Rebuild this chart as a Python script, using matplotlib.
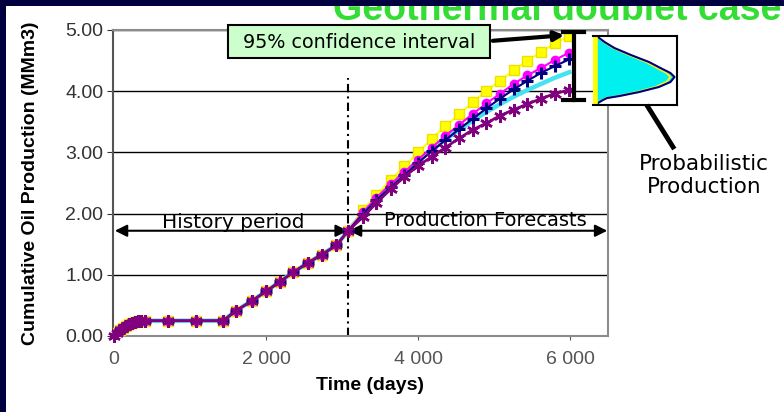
import matplotlib
matplotlib.use('Agg')
import matplotlib.pyplot as plt
from matplotlib.patches import Rectangle, FancyArrowPatch
from matplotlib.lines import Line2D

# ---------- Data ----------
hist_days = [0, 40, 80, 120, 160, 200, 240, 280, 320, 360, 400,
             710, 1080, 1435, 1600, 1820, 2000, 2185, 2355, 2545, 2730, 2925]
hist_prod = [0.0, 0.05, 0.09, 0.13, 0.16, 0.19, 0.21, 0.23, 0.24, 0.25, 0.25,
             0.25, 0.25, 0.25, 0.41, 0.58, 0.73, 0.89, 1.04, 1.19, 1.33, 1.48]

split_day = 3080
split_prod = 1.72

fc_days = [3280, 3450, 3640, 3820, 4000, 4180, 4360, 4540, 4720,
           4900, 5080, 5260, 5440, 5620, 5800, 5990]
fc_yellow = [2.06, 2.30, 2.55, 2.77, 3.00, 3.22, 3.43, 3.62, 3.82,
             4.01, 4.17, 4.34, 4.50, 4.64, 4.78, 4.90]
fc_magenta = [2.03, 2.26, 2.48, 2.68, 2.88, 3.08, 3.27, 3.45, 3.63,
              3.80, 3.96, 4.12, 4.26, 4.38, 4.51, 4.63]
fc_navy = [2.00, 2.22, 2.43, 2.63, 2.83, 3.02, 3.20, 3.38, 3.55,
           3.72, 3.88, 4.03, 4.17, 4.30, 4.41, 4.52]
fc_cyan = [2.02, 2.25, 2.47, 2.67, 2.86, 3.04, 3.21, 3.37, 3.52,
           3.66, 3.79, 3.91, 4.02, 4.12, 4.22, 4.31]
fc_purple = [1.95, 2.17, 2.40, 2.60, 2.78, 2.93, 3.08, 3.23, 3.37,
             3.48, 3.60, 3.70, 3.79, 3.88, 3.96, 4.02]

ci_day = 6050
ci_low, ci_high = 3.86, 4.97

# inset distribution outline (fraction of inset box)
dens_y = [0.985, 0.913, 0.826, 0.725, 0.623, 0.536, 0.464, 0.406,
          0.333, 0.261, 0.188, 0.130, 0.101, 0.072, 0.029]
dens_x = [0.06, 0.14, 0.26, 0.46, 0.68, 0.82, 0.94, 0.99,
          0.94, 0.80, 0.56, 0.32, 0.17, 0.12, 0.06]

x_ticks = [0, 2000, 4000, 6000]
x_labels = ['0', '2 000', '4 000', '6 000']
y_ticks = [0, 1, 2, 3, 4, 5]
y_labels = ['0.00', '1.00', '2.00', '3.00', '4.00', '5.00']

W, H = 784, 412


def fx(x):
    return x / W


def fy(y):
    return 1 - y / H


plt.rcParams['font.family'] = ['Liberation Sans', 'DejaVu Sans']

fig = plt.figure(figsize=(W / 100, H / 100), dpi=100)
ax = fig.add_axes([fx(113), fy(336), (608 - 113) / W, (336 - 30) / H])
ax.set_xlim(-15, 6500)
ax.set_ylim(0, 5)

days = hist_days + [split_day] + fc_days


def full(fc):
    return hist_prod + [split_prod] + fc


# ---------- Series ----------
ax.plot(days, full(fc_cyan), color='#45e3f0', lw=3.2, zorder=3)
ax.plot(days, full(fc_yellow), color='#ffff00', lw=1.5, marker='s', ms=6.5,
        mec='#f0e000', zorder=4)
ax.plot(days, full(fc_magenta), color='#ff00ff', lw=1.5, marker='o', ms=6,
        zorder=4)
ax.plot(days, full(fc_navy), color='#000080', lw=1.5, marker='+', ms=8,
        mew=2.2, zorder=5)
ax.plot(days, full(fc_purple), color='#800080', lw=2, marker=(6, 2, 0), ms=9,
        mew=1.8, zorder=6, clip_on=False)

# ---------- Split line and period arrows ----------
ax.plot([split_day, split_day], [0, 4.22], color='black', lw=1.5,
        ls=(0, (4, 2, 1, 2)), zorder=2)
ax.annotate('', xy=(10, 1.72), xytext=(split_day - 5, 1.72),
            arrowprops=dict(arrowstyle='<|-|>', color='black', lw=1.5,
                            mutation_scale=18, shrinkA=0, shrinkB=0))
ax.annotate('', xy=(split_day + 10, 1.72), xytext=(6490, 1.72),
            arrowprops=dict(arrowstyle='<|-|>', color='black', lw=1.5,
                            mutation_scale=18, shrinkA=0, shrinkB=0),
            annotation_clip=False)
ax.text(1565, 1.86, 'History period', ha='center', va='center',
        fontsize=14.5, family='DejaVu Sans', zorder=7)
ax.text(4890, 1.88, 'Production Forecasts', ha='center', va='center',
        fontsize=14, family='DejaVu Sans', zorder=7)

# ---------- Confidence interval bar ----------
ax.plot([ci_day, ci_day], [ci_low, ci_high], color='black', lw=3, zorder=8)
ax.plot([5910, 6180], [ci_high, ci_high], color='black', lw=3, zorder=8)
ax.plot([5910, 6180], [ci_low, ci_low], color='black', lw=3, zorder=8)

# ---------- Axes styling ----------
ax.set_xticks(x_ticks)
ax.set_xticklabels(x_labels)
ax.set_yticks(y_ticks)
ax.set_yticklabels(y_labels)
ax.tick_params(axis='x', length=3, pad=8, labelsize=14, colors='#555555')
ax.tick_params(axis='y', length=4, pad=3, labelsize=14, colors='#333333')
ax.yaxis.grid(True, color='black', lw=1)
ax.set_axisbelow(True)
for side in ['top', 'right', 'bottom']:
    ax.spines[side].set_color('#8c8c8c')
    ax.spines[side].set_linewidth(1.5)
ax.spines['left'].set_color('#555555')
ax.spines['left'].set_linewidth(1.5)

fig.text(fx(370), fy(386), 'Time (days)', ha='center', va='center',
         fontsize=14, fontweight='bold')
fig.text(fx(31), fy(183), 'Cumulative Oil Production (MMm3)', ha='center',
         va='center', rotation=90, fontsize=14, fontweight='bold')

# ---------- Confidence interval label ----------
fig.add_artist(Rectangle((fx(228), fy(58)), (490 - 228) / W, (58 - 25) / H,
                         transform=fig.transFigure, facecolor='#ccffcc',
                         edgecolor='black', lw=1.5, zorder=9))
fig.text(fx(359), fy(42), '95% confidence interval', ha='center',
         va='center', fontsize=13.8, family='DejaVu Sans', zorder=10)
fig.add_artist(FancyArrowPatch((fx(490), fy(41)), (fx(567), fy(35)),
                               transform=fig.transFigure, arrowstyle='-|>',
                               mutation_scale=14, lw=3, color='black',
                               zorder=10))

# ---------- Inset distribution ----------
iax = fig.add_axes([fx(593), fy(105), 84 / W, 69 / H])
iax.set_xlim(0, 1.02)
iax.set_ylim(0, 1)
iax.fill_betweenx(dens_y, 0, dens_x, color='#00f0f0', lw=0)
iax.plot([v * 0.95 for v in dens_x], dens_y, color='#f0f020', lw=1.5)
iax.plot(dens_x, dens_y, color='#000080', lw=1.5)
iax.plot([0.03, 0.03], [0, 1], color='#ffff00', lw=4)
iax.set_xticks([])
iax.set_yticks([])
for side in ['top', 'right', 'bottom']:
    iax.spines[side].set_linewidth(1.5)
iax.spines['left'].set_visible(False)

fig.add_artist(Line2D([fx(648), fx(673)], [fy(107), fy(147)],
                      transform=fig.transFigure, color='black', lw=3.5))
fig.text(fx(704), fy(164), 'Probabilistic', ha='center', va='center',
         fontsize=15.5, family='DejaVu Sans')
fig.text(fx(704), fy(187), 'Production', ha='center', va='center',
         fontsize=15.5, family='DejaVu Sans')

# ---------- Slide frame ----------
fig.text(fx(557), fy(20), 'Geothermal doublet case', ha='center',
         va='baseline', fontsize=27, fontweight='bold', color='#33dd33')
fig.add_artist(Rectangle((0, fy(6)), 1, 6 / H, transform=fig.transFigure,
                         facecolor='#000040', lw=0, zorder=20))
fig.add_artist(Rectangle((0, 0), 6 / W, 1, transform=fig.transFigure,
                         facecolor='#000040', lw=0, zorder=20))

fig.savefig('out.png', dpi=100)
